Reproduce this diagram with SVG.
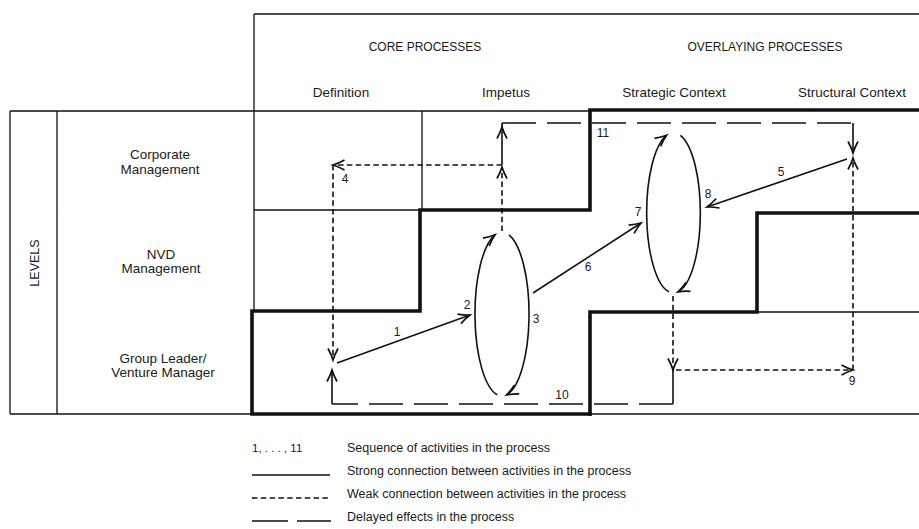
<svg xmlns="http://www.w3.org/2000/svg" width="919" height="529" viewBox="0 0 919 529">
  <style>
    text { font-family: "Liberation Sans", Arial, Helvetica, sans-serif; fill: #1a1a1a; }
    .hd { font-size: 12px; text-anchor: middle; dominant-baseline: central; }
    .sub { font-size: 13.5px; text-anchor: middle; dominant-baseline: central; }
    .lvl { font-size: 13.5px; text-anchor: middle; dominant-baseline: central; }
    .num { font-size: 12px; text-anchor: middle; dominant-baseline: central; }
    .leg { font-size: 12.5px; dominant-baseline: central; }
    .thin { fill: none; stroke: #111; stroke-width: 1.3; }
    .thick { fill: none; stroke: #111; stroke-width: 3.6; stroke-linejoin: miter; stroke-linecap: square; }
    .strong { fill: none; stroke: #111; stroke-width: 1.6; }
    .weak { fill: none; stroke: #111; stroke-width: 1.6; stroke-dasharray: 5.5 3.3; }
    .delayed { fill: none; stroke: #111; stroke-width: 1.6; stroke-dasharray: 34 11; }
  </style>
  <defs>
    <!-- barbed open arrowhead, tip at the path end -->
    <marker id="ah" markerUnits="userSpaceOnUse" viewBox="0 0 14 12" markerWidth="14" markerHeight="12" refX="12.5" refY="6" orient="auto" overflow="visible">
      <path d="M1,1 Q7,4.3 12.5,6 Q7,7.7 1,11" fill="none" stroke="#111" stroke-width="1.7" stroke-dasharray="none"/>
    </marker>
  </defs>

  <rect width="919" height="529" fill="#fff"/>

  <!-- column header frame -->
  <g id="header">
    <path class="thin" d="M254,14 H919 M254,14 V311"/>
    <text class="hd" x="425" y="47">CORE PROCESSES</text>
    <text class="hd" x="765" y="47">OVERLAYING PROCESSES</text>
    <text class="sub" x="341" y="92">Definition</text>
    <text class="sub" x="506" y="92">Impetus</text>
    <text class="sub" x="674" y="92">Strategic Context</text>
    <text class="sub" x="852" y="92">Structural Context</text>
  </g>

  <!-- level rows -->
  <g id="levels">
    <path class="thin" d="M10,111 H590 M10,111 V414 M57,111 V414 M10,414 H252 M590,414 H919 M254,210 H420 M422,111 V210 M757,312 H919"/>
    <text class="lvl" transform="translate(35,263) rotate(-90)" style="font-size:12.5px">LEVELS</text>
    <text class="lvl" x="160" y="154">Corporate</text>
    <text class="lvl" x="160" y="169">Management</text>
    <text class="lvl" x="161" y="254">NVD</text>
    <text class="lvl" x="161" y="268">Management</text>
    <text class="lvl" x="163" y="358">Group Leader/</text>
    <text class="lvl" x="163" y="372">Venture Manager</text>
  </g>

  <!-- staircase boundaries of the core and overlaying processes -->
  <g id="stairs">
    <path class="thick" d="M590,414 H252 V311 H420 V210 H590 V110 H919"/>
    <path class="thick" d="M590,414 V312 H757 V213 H919"/>
  </g>

  <!-- activity cycles -->
  <g id="impetus-cycle">
    <path class="strong" d="M497.3,394.8 A27,82 0 0 1 495,234.8" marker-end="url(#ah)"/>
    <path class="strong" d="M509,234.8 A27,82 0 0 1 506.7,394.8" marker-end="url(#ah)"/>
  </g>
  <g id="strategic-cycle">
    <path class="strong" d="M669,291.8 A26.5,80 0 0 1 666.6,135.3" marker-end="url(#ah)"/>
    <path class="strong" d="M680.4,135.3 A26.5,80 0 0 1 678,291.8" marker-end="url(#ah)"/>
  </g>

  <!-- connectors -->
  <g id="connectors">
    <!-- 1 -->
    <path class="strong" d="M337,363 L470,315" marker-end="url(#ah)"/>
    <!-- 6 -->
    <path class="strong" d="M533,293 L641,223" marker-end="url(#ah)"/>
    <!-- 5 -->
    <path class="strong" d="M847,159 L707,207" marker-end="url(#ah)"/>
    <!-- impetus upward -->
    <path class="weak" d="M502,231 V167" marker-end="url(#ah)"/>
    <path class="strong" d="M502,165 V127" marker-end="url(#ah)"/>
    <path class="strong" d="M502,127 V123"/>
    <!-- 4 -->
    <path class="weak" d="M502,165 H333" marker-end="url(#ah)"/>
    <path class="weak" d="M333,165 V360" marker-end="url(#ah)"/>
    <!-- 11 -->
    <path class="delayed" d="M502,123 H853"/>
    <path class="strong" d="M853,123 V153" marker-end="url(#ah)"/>
    <!-- weak rise in structural context -->
    <path class="weak" d="M853,370 V158" marker-end="url(#ah)"/>
    <!-- strategic downward and 9 -->
    <path class="weak" d="M673,296 V370" marker-end="url(#ah)"/>
    <path class="weak" d="M676,370 H853" marker-end="url(#ah)"/>
    <!-- 10 -->
    <path class="strong" d="M673,370 V404"/>
    <path class="delayed" d="M673,404 H332"/>
    <path class="strong" d="M332,404 V370" marker-end="url(#ah)"/>
  </g>

  <!-- sequence numbers -->
  <g id="numbers">
    <text class="num" x="397" y="332">1</text>
    <text class="num" x="467" y="305">2</text>
    <text class="num" x="536" y="319">3</text>
    <text class="num" x="345" y="179">4</text>
    <text class="num" x="781" y="172">5</text>
    <text class="num" x="588" y="267">6</text>
    <text class="num" x="638" y="212">7</text>
    <text class="num" x="708" y="194">8</text>
    <text class="num" x="852" y="381">9</text>
    <text class="num" x="562" y="395">10</text>
    <text class="num" x="603" y="133">11</text>
  </g>

  <!-- legend -->
  <g id="legend">
    <text class="leg" x="252" y="448" style="font-size:11.5px">1, . . . , 11</text>
    <text class="leg" x="347" y="448">Sequence of activities in the process</text>
    <path class="strong" d="M252,475 H330"/>
    <text class="leg" x="347" y="471">Strong connection between activities in the process</text>
    <path class="weak" d="M252,498 H331"/>
    <text class="leg" x="347" y="494">Weak connection between activities in the process</text>
    <path class="strong" d="M252,521 H288 M297,521 H331"/>
    <text class="leg" x="347" y="517">Delayed effects in the process</text>
  </g>
</svg>
